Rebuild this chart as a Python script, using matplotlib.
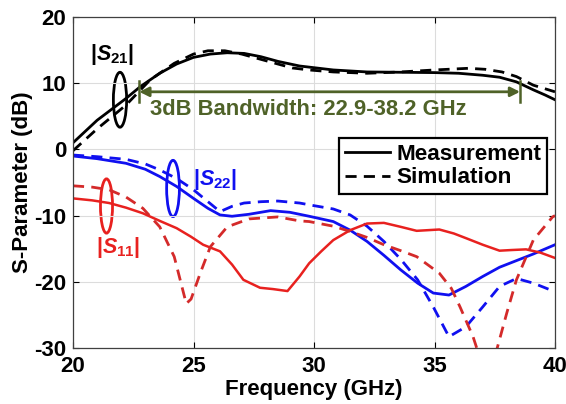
import numpy as np
import matplotlib
matplotlib.use('Agg')
from matplotlib import pyplot as plt
from matplotlib.patches import Ellipse

f_s21_meas = [20.0, 21.0, 22.2, 22.8, 23.6, 24.3, 25.0, 25.7, 26.4, 27.1, 27.8, 28.5, 29.4, 30.8, 32.2, 33.6, 35.0, 36.0, 37.0, 37.7, 38.4, 39.1, 39.6, 40.0]
s21_meas = [1.0, 4.4, 7.7, 9.5, 11.5, 12.9, 13.9, 14.4, 14.6, 14.5, 14.0, 13.3, 12.6, 12.0, 11.7, 11.65, 11.6, 11.5, 11.2, 10.9, 10.2, 9.0, 8.2, 7.5]
f_s21_sim = [20.0, 21.0, 22.2, 23.2, 24.2, 25.0, 25.6, 26.3, 27.0, 27.8, 28.5, 29.1, 29.8, 30.8, 32.2, 33.6, 35.0, 36.4, 37.1, 37.8, 38.4, 39.1, 40.0]
s21_sim = [-0.2, 3.1, 6.7, 10.5, 13.0, 14.4, 14.9, 14.9, 14.4, 13.6, 12.9, 12.3, 12.0, 11.7, 11.5, 11.7, 12.0, 12.25, 12.1, 11.7, 11.0, 9.7, 8.7]

f_s22_meas = [20.0, 21.0, 22.2, 23.0, 23.6, 24.3, 25.0, 25.6, 26.1, 26.6, 27.3, 28.2, 29.0, 29.8, 30.8, 31.5, 32.2, 32.9, 33.6, 34.3, 34.95, 35.6, 36.3, 37.0, 37.7, 38.4, 39.1, 40.0]
s22_meas = [-1.0, -1.4, -2.1, -3.0, -4.1, -5.6, -7.4, -8.9, -9.9, -10.1, -9.8, -9.25, -9.5, -10.1, -10.9, -12.2, -13.9, -16.0, -18.2, -20.2, -21.7, -22.0, -20.7, -19.2, -17.8, -16.8, -15.8, -14.4]
f_s22_sim = [20.0, 21.0, 22.2, 23.0, 23.6, 24.3, 25.0, 25.6, 26.1, 26.6, 27.1, 27.8, 28.5, 29.4, 30.0, 30.8, 31.5, 32.2, 32.9, 33.6, 34.3, 34.95, 35.6, 36.3, 37.0, 37.7, 38.4, 39.1, 40.0]
s22_sim = [-0.85, -1.1, -1.5, -2.2, -3.1, -4.4, -6.1, -7.9, -9.4, -8.6, -8.1, -7.9, -7.8, -8.1, -8.5, -9.0, -9.9, -11.6, -13.9, -16.6, -19.7, -23.8, -28.3, -26.8, -23.8, -20.7, -19.5, -20.2, -21.5]

f_s11_meas = [20.0, 20.8, 21.5, 22.2, 22.9, 23.6, 24.3, 24.9, 25.4, 26.1, 26.6, 27.07, 27.76, 28.3, 28.9, 29.4, 29.8, 30.3, 30.8, 31.5, 32.2, 32.9, 33.6, 34.26, 35.2, 35.8, 36.3, 37.0, 37.7, 38.2, 38.8, 39.4, 40.0]
s11_meas = [-7.4, -7.7, -8.1, -8.8, -9.65, -10.8, -11.9, -13.2, -14.4, -15.4, -17.4, -19.7, -20.9, -21.1, -21.4, -19.2, -17.2, -15.4, -13.7, -12.2, -11.2, -11.1, -11.7, -12.3, -12.1, -12.7, -13.4, -14.4, -15.3, -15.2, -15.1, -15.6, -16.4]
f_s11_sim = [20.0, 20.8, 21.5, 22.2, 22.9, 23.6, 24.2, 24.7, 24.9, 25.3, 25.7, 26.4, 27.3, 28.5, 29.4, 29.8, 30.8, 31.5, 32.2, 32.9, 33.6, 34.26, 35.2, 35.7, 36.06, 36.6, 37.2, 37.58, 38.0, 38.4, 39.1, 39.9, 40.0]
s11_sim = [-5.5, -5.7, -6.1, -7.2, -8.9, -11.7, -16.2, -23.3, -22.6, -18.5, -14.7, -11.7, -10.5, -10.2, -10.8, -10.9, -11.6, -12.4, -13.3, -14.4, -15.3, -16.2, -18.7, -21.0, -23.8, -28.3, -35.0, -30.3, -24.7, -19.7, -13.7, -10.2, -10.0]

bw_lo, bw_hi, bw_level = 22.75, 38.55, 8.7

red = '#e8211f'
red_sim = '#d42a2a'
blue = '#1010f0'
green = '#4f6228'

plt.rcParams['font.family'] = ['Liberation Sans', 'DejaVu Sans']
plt.rcParams['font.weight'] = 'bold'
plt.rcParams['axes.unicode_minus'] = False
plt.rcParams['mathtext.fontset'] = 'custom'
plt.rcParams['mathtext.rm'] = 'Liberation Sans:bold'
plt.rcParams['mathtext.it'] = 'Liberation Sans:italic:bold'
plt.rcParams['mathtext.bf'] = 'Liberation Sans:bold'

fig = plt.figure(figsize=(5.66, 4.04), dpi=100)
ax = fig.add_axes([73 / 566, 1 - 348 / 404, 482 / 566, 331 / 404])

lw = 2.0
dash = (0, (4, 2.6))
ax.plot(f_s21_meas, s21_meas, color='black', lw=lw, label='Measurement')
ax.plot(f_s21_sim, s21_sim, color='black', lw=lw, ls=dash, label='Simulation')
ax.plot(f_s22_meas, s22_meas, color=blue, lw=lw)
ax.plot(f_s22_sim, s22_sim, color=blue, lw=lw, ls=dash)
ax.plot(f_s11_meas, s11_meas, color=red, lw=lw * 0.9)
ax.plot(f_s11_sim, s11_sim, color=red_sim, lw=lw, ls=dash)

# bandwidth marker
ax.annotate('', xy=(bw_lo, bw_level), xytext=(bw_hi, bw_level),
            arrowprops=dict(arrowstyle='<|-|>', color=green, lw=2,
                            shrinkA=0, shrinkB=0, mutation_scale=14))
ax.plot([bw_lo, bw_lo], [bw_level - 1.6, bw_level + 1.7], color=green, lw=1.8)
ax.plot([bw_hi, bw_hi], [bw_level - 1.6, bw_level + 1.7], color=green, lw=1.8)
ax.text(29.75, 6.0, '3dB Bandwidth: 22.9-38.2 GHz', color=green, fontsize=15.8,
        fontweight='bold', ha='center', va='center')

# curve labels
ax.add_patch(Ellipse((21.95, 7.5), 0.55, 8.3, fill=False, ec='black', lw=2))
ax.text(21.6, 14.3, r'$|S_{21}|$', fontsize=15.5, ha='center', va='center', color='black')
ax.add_patch(Ellipse((24.15, -5.9), 0.53, 8.5, fill=False, ec=blue, lw=2))
ax.text(25.9, -4.6, r'$|S_{22}|$', fontsize=15.5, ha='center', va='center', color=blue)
ax.add_patch(Ellipse((21.39, -8.55), 0.5, 8.2, fill=False, ec=red, lw=2))
ax.text(21.87, -14.8, r'$|S_{11}|$', fontsize=15.5, ha='center', va='center', color=red)

ax.set_xlim(20, 40)
ax.set_ylim(-30, 20)
ax.set_xticks([20, 25, 30, 35, 40])
ax.set_yticks([-30, -20, -10, 0, 10, 20])
ax.grid(True, color='#dcdcdc', lw=0.8)
ax.tick_params(direction='in', labelsize=16, length=4, width=0.8, top=True, right=True)
ax.tick_params(axis='x', pad=6)
ax.tick_params(axis='y', pad=5)
for lab in ax.get_xticklabels() + ax.get_yticklabels():
    lab.set_fontweight('bold')
for sp in ax.spines.values():
    sp.set_color('#404040')
    sp.set_linewidth(0.9)

ax.set_xlabel('Frequency (GHz)', fontsize=16, fontweight='bold', labelpad=1)
ax.set_ylabel('S-Parameter (dB)', fontsize=16, fontweight='bold', labelpad=1)

leg = ax.legend(loc='upper right', bbox_to_anchor=(0.983, 0.634), fontsize=16.2,
                handlelength=2.0, handletextpad=0.27, borderpad=0.25,
                labelspacing=0.12, fancybox=False, framealpha=1, borderaxespad=0)
leg.get_frame().set_edgecolor('black')
leg.get_frame().set_linewidth(1.6)

fig.savefig('out.png', dpi=100)
